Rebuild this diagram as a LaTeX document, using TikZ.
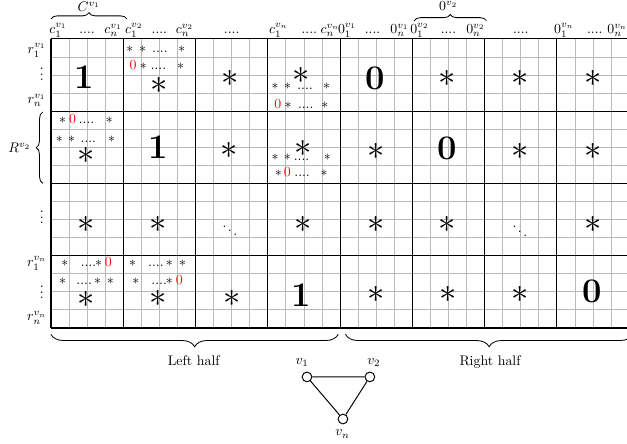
\documentclass[tikz,border=0pt]{standalone}
\usepackage{amsmath,amssymb}
\usetikzlibrary{decorations.pathreplacing}
\tikzset{
  sm/.style={anchor=base},
  rz/.style={anchor=base, text=red},
  big/.style={font=\Huge},
  vtx/.style={circle, draw, line width=0.7pt, inner sep=0pt, minimum size=7pt},
  brc/.style={decorate, decoration={brace, amplitude=#1}, line width=0.6pt}
}

\begin{document}
\begin{tikzpicture}[scale=0.458, every node/.style={inner sep=0.5pt}]
\useasboundingbox (-2.82,-6.42) rectangle (31.88,18.15);
% cells and blocks
\draw[gray!55, line width=0.6pt] (0,0) grid (32,16);
\draw[line width=0.8pt] (0,0) grid[step=4] (32,16);

% column labels
\node[sm] (c1a) at (0.4,16.3) {$c_1^{v_1}$};
\node[sm] (c1d) at (2.0,16.3) {....};
\node[sm] (c1n) at (3.45,16.3) {$c_n^{v_1}$};
\node[sm] (c2a) at (4.6,16.3) {$c_1^{v_2}$};
\node[sm] (c2d) at (6.0,16.3) {....};
\node[sm] (c2n) at (7.4,16.3) {$c_n^{v_2}$};
\node[sm] (c3d) at (10.0,16.3) {....};
\node[sm] (c4a) at (12.6,16.3) {$c_1^{v_n}$};
\node[sm] (c4d) at (14.3,16.3) {....};
\node[sm] (c4n) at (15.45,16.3) {$c_n^{v_n}$};
\node[sm] (z1a) at (16.4,16.3) {$0_1^{v_1}$};
\node[sm] (z1d) at (17.8,16.3) {....};
\node[sm] (z1n) at (19.3,16.3) {$0_n^{v_1}$};
\node[sm] (z2a) at (20.4,16.3) {$0_1^{v_2}$};
\node[sm] (z2d) at (22.0,16.3) {....};
\node[sm] (z2n) at (23.5,16.3) {$0_n^{v_2}$};
\node[sm] (z3d) at (26.0,16.3) {....};
\node[sm] (z4a) at (28.4,16.3) {$0_1^{v_n}$};
\node[sm] (z4d) at (30.1,16.3) {....};
\node[sm] (z4n) at (31.35,16.3) {$0_n^{v_n}$};

% top braces
\draw[brc=4.5pt] (0,17.1) -- (4.2,17.1);
\node (Cv1) at (2.1,17.8) {$C^{v_1}$};
\draw[brc=4.5pt] (20.1,17.0) -- (24.1,17.0);
\node (Zv2) at (22.0,17.8) {$0^{v_2}$};

% row labels
\node (r1a) at (-0.78,15.36) {$r_1^{v_1}$};
\node (r1d) at (-0.5,14.25) {$\vdots$};
\node (r1n) at (-0.78,12.6) {$r_n^{v_1}$};
\node (r3d) at (-0.5,6.35) {$\vdots$};
\node (r4a) at (-0.78,3.58) {$r_1^{v_n}$};
\node (r4d) at (-0.5,2.2) {$\vdots$};
\node (r4n) at (-0.78,0.55) {$r_n^{v_n}$};
\draw[brc=4.8pt] (-0.45,8.0) -- (-0.45,11.95);
\node (Rv2) at (-1.74,9.96) {$R^{v_2}$};

% block row 1
\node[big] (b11) at (1.85,13.9) {\textbf{1}};
\node[sm] (s12a) at (4.37,15.22) {$*$};
\node[sm] (s12b) at (5.07,15.22) {$*$};
\node[sm] (s12c) at (6.03,15.22) {....};
\node[sm] (s12d) at (7.25,15.22) {$*$};
\node[rz] (s12e) at (4.55,14.3) {0};
\node[sm] (s12f) at (5.11,14.3) {$*$};
\node[sm] (s12g) at (5.95,14.3) {....};
\node[sm] (s12h) at (7.18,14.3) {$*$};
\node[big] (b12) at (6.0,13.4) {$*$};
\node[big] (b13) at (9.93,13.78) {$*$};
\node[big] (b14) at (13.87,14.0) {$*$};
\node[sm] (s14a) at (12.4,13.17) {$*$};
\node[sm] (s14b) at (13.1,13.17) {$*$};
\node[sm] (s14c) at (14.06,13.17) {....};
\node[sm] (s14d) at (15.26,13.17) {$*$};
\node[rz] (s14e) at (12.55,12.15) {0};
\node[sm] (s14f) at (13.13,12.15) {$*$};
\node[sm] (s14g) at (14.1,12.15) {....};
\node[sm] (s14h) at (15.16,12.15) {$*$};
\node[big] (b15) at (17.93,13.82) {\textbf{0}};
\node[big] (b16) at (21.9,13.78) {$*$};
\node[big] (b17) at (25.95,13.78) {$*$};
\node[big] (b18) at (29.98,13.78) {$*$};

% block row 2
\node[sm] (s21a) at (0.65,11.29) {$*$};
\node[rz] (s21b) at (1.2,11.29) {0};
\node[sm] (s21c) at (1.97,11.29) {....};
\node[sm] (s21d) at (3.23,11.29) {$*$};
\node[sm] (s21e) at (0.46,10.28) {$*$};
\node[sm] (s21f) at (1.14,10.28) {$*$};
\node[sm] (s21g) at (2.07,10.28) {....};
\node[sm] (s21h) at (3.36,10.28) {$*$};
\node[big] (b21) at (1.97,9.57) {$*$};
\node[big] (b22) at (5.94,10.03) {\textbf{1}};
\node[big] (b23) at (9.87,9.85) {$*$};
\node[big] (b24) at (13.96,9.94) {$*$};
\node[sm] (s24a) at (12.4,9.26) {$*$};
\node[sm] (s24b) at (13.08,9.26) {$*$};
\node[sm] (s24c) at (13.87,9.26) {....};
\node[sm] (s24d) at (15.29,9.26) {$*$};
\node[sm] (s24e) at (12.58,8.36) {$*$};
\node[rz] (s24f) at (13.08,8.36) {0};
\node[sm] (s24g) at (13.9,8.36) {....};
\node[sm] (s24h) at (15.12,8.36) {$*$};
\node[big] (b25) at (17.99,9.76) {$*$};
\node[big] (b26) at (21.93,9.94) {\textbf{0}};
\node[big] (b27) at (25.99,9.74) {$*$};
\node[big] (b28) at (29.98,9.74) {$*$};

% block row 3
\node[big] (b31) at (1.97,5.7) {$*$};
\node[big] (b32) at (5.92,5.7) {$*$};
\node (b33) at (9.9,5.62) {$\ddots$};
\node[big] (b34) at (13.95,5.7) {$*$};
\node[big] (b35) at (17.99,5.7) {$*$};
\node[big] (b36) at (21.9,5.75) {$*$};
\node (b37) at (25.95,5.58) {$\ddots$};
\node[big] (b38) at (29.98,5.7) {$*$};

% block row 4
\node[sm] (s41a) at (0.77,3.4) {$*$};
\node[sm] (s41b) at (2.08,3.4) {....};
\node[sm] (s41c) at (2.64,3.4) {$*$};
\node[rz] (s41d) at (3.17,3.4) {0};
\node[sm] (s41e) at (0.65,2.42) {$*$};
\node[sm] (s41f) at (1.84,2.42) {....};
\node[sm] (s41g) at (2.58,2.42) {$*$};
\node[sm] (s41h) at (3.28,2.42) {$*$};
\node[sm] (s42a) at (4.52,3.4) {$*$};
\node[sm] (s42b) at (5.81,3.4) {....};
\node[sm] (s42c) at (6.55,3.4) {$*$};
\node[sm] (s42d) at (7.29,3.4) {$*$};
\node[sm] (s42e) at (4.7,2.42) {$*$};
\node[sm] (s42f) at (5.99,2.42) {....};
\node[sm] (s42g) at (6.55,2.42) {$*$};
\node[rz] (s42h) at (7.1,2.42) {0};
\node[big] (b41) at (1.97,1.55) {$*$};
\node[big] (b42) at (5.94,1.64) {$*$};
\node[big] (b43) at (10.05,1.64) {$*$};
\node[big] (b44) at (13.83,1.83) {\textbf{1}};
\node[big] (b45) at (18.02,1.83) {$*$};
\node[big] (b46) at (21.99,1.83) {$*$};
\node[big] (b47) at (25.95,1.83) {$*$};
\node[big] (b48) at (29.98,2.0) {\textbf{0}};

% halves
\draw[brc=9pt] (15.9,-0.35) -- (0,-0.35);
\draw[brc=9pt] (32.2,-0.35) -- (16.3,-0.35);
\node[sm] (lh) at (7.9,-2.05) {Left half};
\node[sm] (rh) at (24.3,-2.05) {Right half};

% graph
\node[vtx] (v1) at (14.17,-2.71) {};
\node[vtx] (v2) at (17.65,-2.71) {};
\node[vtx] (vn) at (16.16,-5.04) {};
\draw[line width=0.7pt] (v1) -- (v2) -- (vn) -- (v1);
\node (lv1) at (13.9,-1.9) {$v_1$};
\node (lv2) at (17.87,-1.9) {$v_2$};
\node (lvn) at (16.13,-5.87) {$v_n$};
\end{tikzpicture}
\end{document}
